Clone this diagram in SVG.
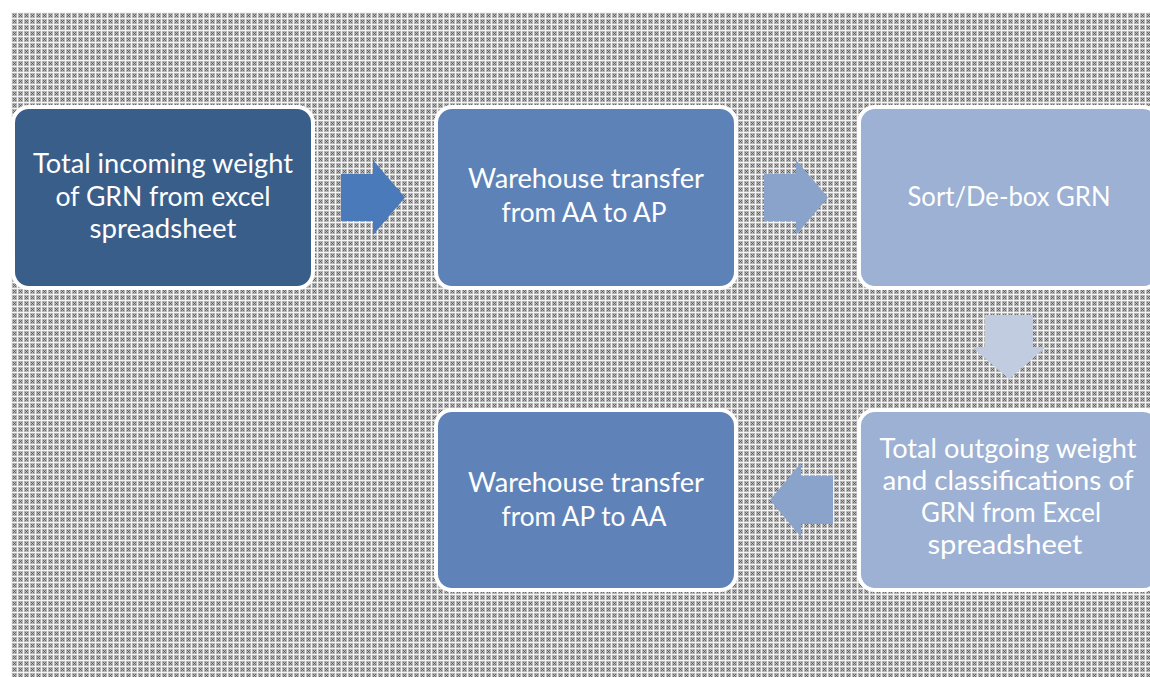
<svg xmlns="http://www.w3.org/2000/svg" width="1150" height="677" viewBox="0 0 1150 677">
  <defs>
    <pattern id="grid" x="11" y="12" width="6" height="6" patternUnits="userSpaceOnUse">
      <rect width="6" height="6" fill="#b6b6b6"/>
      <rect width="6" height="1" fill="#f4f4f4"/>
      <rect width="1" height="6" fill="#f4f4f4"/>
      <rect x="2" y="2" width="1" height="1" fill="#6a6a6a"/>
      <rect x="4" y="2" width="1" height="1" fill="#6a6a6a"/>
      <rect x="3" y="3" width="1" height="1" fill="#555555"/>
      <rect x="2" y="4" width="1" height="1" fill="#6a6a6a"/>
      <rect x="4" y="4" width="1" height="1" fill="#6a6a6a"/>
    </pattern>
  </defs>
  <style>
    .box { stroke: #ffffff; stroke-width: 4; }
    .lbl { font-family: Lato, "Open Sans", "Liberation Sans", sans-serif; font-size: 26px; fill: #ffffff; text-anchor: middle; }
  </style>
  <rect width="1150" height="677" fill="#ffffff"/>
  <rect x="11" y="12" width="1139" height="665" fill="url(#grid)"/>

  <g id="connectors">
    <polygon points="341,174 373,174 373,160 405,197.5 373,235 373,221 341,221" fill="#4a7ab9"/>
    <polygon points="764,174 796,174 796,160 828,197.5 796,235 796,221 764,221" fill="#8aa3cb"/>
    <polygon points="985,315 1033,315 1033,347 1046,347 1009,379 972,347 985,347" fill="#c1cce1"/>
    <polygon points="833,476 801,476 801,463 770,500 801,537 801,524 833,524" fill="#8aa3cb"/>
  </g>

  <g id="node1">
    <rect class="box" x="13" y="107" width="300" height="181" rx="16" fill="#3a5e8a"/>
    <text class="lbl"><tspan x="163" y="173" textLength="260" lengthAdjust="spacingAndGlyphs">Total incoming weight</tspan><tspan x="163" y="206" textLength="215" lengthAdjust="spacingAndGlyphs">of GRN from excel</tspan><tspan x="163" y="238" textLength="147" lengthAdjust="spacingAndGlyphs">spreadsheet</tspan></text>
  </g>

  <g id="node2">
    <rect class="box" x="436" y="107" width="300" height="181" rx="16" fill="#5d82b8"/>
    <text class="lbl"><tspan x="586" y="188" textLength="236" lengthAdjust="spacingAndGlyphs">Warehouse transfer</tspan><tspan x="584" y="222" textLength="165" lengthAdjust="spacingAndGlyphs">from AA to AP</tspan></text>
  </g>

  <g id="node3">
    <rect class="box" x="859" y="107" width="300" height="181" rx="16" fill="#9cb1d3"/>
    <text class="lbl"><tspan x="1009" y="206" textLength="203" lengthAdjust="spacingAndGlyphs">Sort/De-box GRN</tspan></text>
  </g>

  <g id="node4">
    <rect class="box" x="859" y="410" width="300" height="180" rx="16" fill="#9cb1d3"/>
    <text class="lbl"><tspan x="1008" y="458" textLength="257" lengthAdjust="spacingAndGlyphs">Total outgoing weight</tspan><tspan x="1008" y="490" textLength="251" lengthAdjust="spacingAndGlyphs">and classifications of</tspan><tspan x="1011" y="522" textLength="180" lengthAdjust="spacingAndGlyphs">GRN from Excel</tspan><tspan x="1005" y="554" textLength="155" lengthAdjust="spacingAndGlyphs">spreadsheet</tspan></text>
  </g>

  <g id="node5">
    <rect class="box" x="436" y="410" width="300" height="180" rx="16" fill="#5f83b9"/>
    <text class="lbl"><tspan x="586" y="492" textLength="236" lengthAdjust="spacingAndGlyphs">Warehouse transfer</tspan><tspan x="584" y="526" textLength="165" lengthAdjust="spacingAndGlyphs">from AP to AA</tspan></text>
  </g>
</svg>
